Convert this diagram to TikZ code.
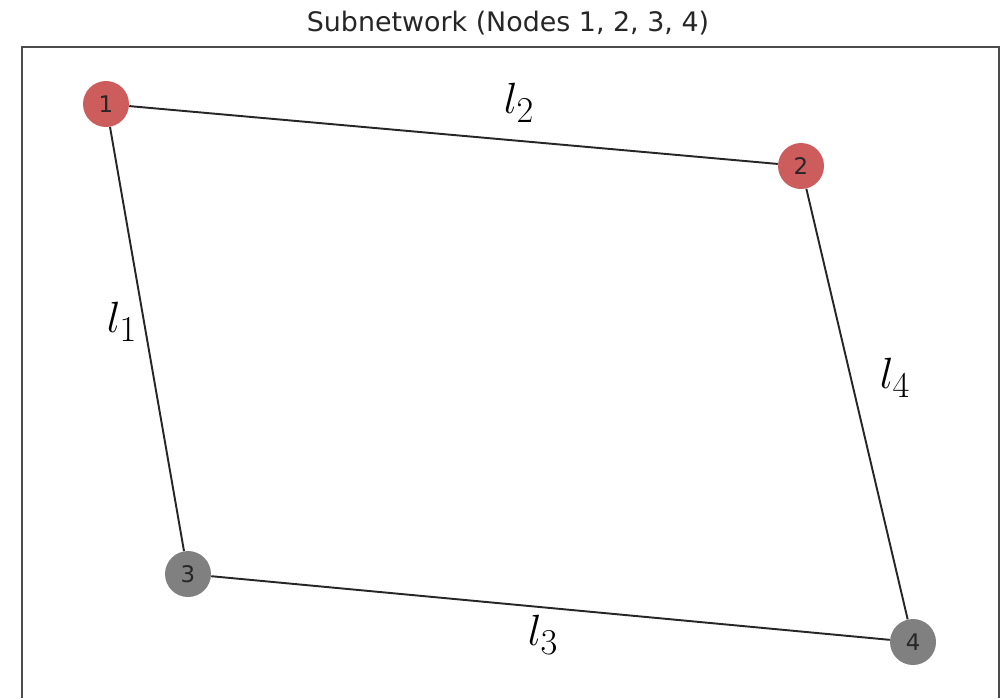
\documentclass[tikz,border=0pt]{standalone}
\usepackage{fontspec}
\setmainfont{DejaVu Sans}
\usepackage{tikz}
\usetikzlibrary{positioning,calc}
\tikzset{
  snnode/.style={circle, inner sep=0pt, minimum size=0.92cm,
                 font=\fontsize{13}{15}\selectfont, text=black!85},
  snedge/.style={draw=black!85, line width=1.1pt},
  snlab/.style={font=\fontsize{31}{36}\selectfont, inner sep=0pt},
  snframe/.style={draw=black!70, line width=1.1pt},
}
\newcommand{\snRed}{snred}
\newcommand{\snGray}{sngray}
\definecolor{snred}{RGB}{205,92,92}
\definecolor{sngray}{RGB}{128,128,128}

\begin{document}
\begin{tikzpicture}[x=0.02cm, y=-0.02cm]
  \useasboundingbox (0,0) rectangle (1003,698);
  % axes frame, bottom edge off the page
  \draw[snframe] (22,698) -- (22,47) -- (999,47) -- (999,698);
  \node[font=\fontsize{15.3}{17}\selectfont, text=black!85] (title) at (508,23) {Subnetwork (Nodes 1, 2, 3, 4)};

  \node[snnode, fill=\snRed] (n1) at (106,104) {1};
  \node[snnode, fill=\snRed] (n2) at (801,166) {2};
  \node[snnode, fill=\snGray] (n3) at (188,574) {3};
  \node[snnode, fill=\snGray] (n4) at (913,642) {4};

  \draw[snedge] (n1) -- (n2);
  \draw[snedge] (n1) -- (n3);
  \draw[snedge] (n3) -- (n4);
  \draw[snedge] (n2) -- (n4);

  \node[snlab] (lab1) at (122,322) {$l_1$};
  \node[snlab] (lab2) at (519,103) {$l_2$};
  \node[snlab] (lab3) at (543,635) {$l_3$};
  \node[snlab] (lab4) at (895,378) {$l_4$};
\end{tikzpicture}
\end{document}
